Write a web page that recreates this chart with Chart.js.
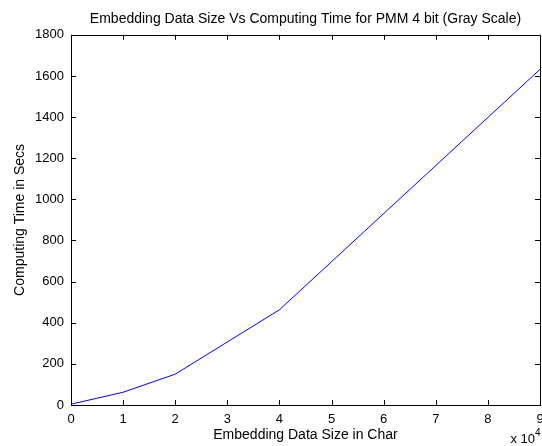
<!DOCTYPE html>
<html>
<head>
<meta charset="utf-8">
<script src="https://cdn.jsdelivr.net/npm/chart.js@4/dist/chart.umd.min.js"></script>
<style>
  html, body { margin: 0; padding: 0; background: #fff; }
</style>
</head>
<body>
<canvas id="plot" width="542" height="446"></canvas>
<script>
// embedding data size (chars) vs computing time (secs)
const dataSize = [0, 10000, 20000, 40000, 90000];
const computeTime = [4, 62, 150, 463, 1632];
const xTicks = [0, 1, 2, 3, 4, 5, 6, 7, 8, 9];
const yTicks = [0, 200, 400, 600, 800, 1000, 1200, 1400, 1600, 1800];

const family = "'Liberation Sans', Arial, sans-serif";
const tickFont = { family: family, size: 13 };
const labelFont = { family: family, size: 14 };

// matlab style box with inward ticks
const boxPlugin = {
  id: "box",
  afterDraw(chart) {
    const ctx = chart.ctx;
    const a = chart.chartArea;
    const xs = chart.scales.x, ys = chart.scales.y;
    ctx.save();
    ctx.strokeStyle = "#000";
    ctx.lineWidth = 1;
    ctx.strokeRect(Math.round(a.left) + 0.5, Math.round(a.top) + 0.5,
      Math.round(a.right - a.left), Math.round(a.bottom - a.top));
    ctx.beginPath();
    xTicks.forEach(t => {
      const px = Math.round(xs.getPixelForValue(t * 10000)) + 0.5;
      ctx.moveTo(px, a.bottom); ctx.lineTo(px, a.bottom - 5);
      ctx.moveTo(px, a.top); ctx.lineTo(px, a.top + 5);
    });
    yTicks.forEach(t => {
      const py = Math.round(ys.getPixelForValue(t)) + 0.5;
      ctx.moveTo(a.left, py); ctx.lineTo(a.left + 5, py);
      ctx.moveTo(a.right, py); ctx.lineTo(a.right - 5, py);
    });
    ctx.stroke();
    // exponent label
    ctx.fillStyle = "#000";
    ctx.font = "13px " + family;
    ctx.textBaseline = "alphabetic";
    ctx.textAlign = "right";
    ctx.fillText("x 10", a.right - 5, a.bottom + 38);
    ctx.font = "10px " + family;
    ctx.textAlign = "left";
    ctx.fillText("4", a.right - 5, a.bottom + 31);
    ctx.restore();
  }
};

new Chart(document.getElementById("plot"), {
  type: "line",
  data: {
    datasets: [{
      data: dataSize.map((x, i) => ({ x: x, y: computeTime[i] })),
      borderColor: "#0000ff",
      borderWidth: 1,
      pointRadius: 0,
      tension: 0,
      fill: false,
    }],
  },
  options: {
    responsive: false,
    animation: false,
    devicePixelRatio: 1,
    layout: { padding: { left: 0, right: 2, top: 0, bottom: 0 } },
    plugins: {
      legend: { display: false },
      tooltip: { enabled: false },
      title: {
        display: true,
        text: "Embedding Data Size Vs Computing Time for PMM 4 bit (Gray Scale)",
        color: "#000",
        font: { family: family, size: 14, weight: "normal" },
        fullSize: false,
        padding: { top: 11, bottom: 7 },
      },
    },
    scales: {
      x: {
        type: "linear",
        min: 0,
        max: 90000,
        grid: { display: false },
        border: { display: false },
        ticks: {
          stepSize: 10000,
          autoSkip: false,
          color: "#000",
          font: tickFont,
          padding: -1,
          maxRotation: 0,
          callback: v => String(v / 10000),
        },
        title: {
          display: true,
          text: "Embedding Data Size in Char",
          color: "#000",
          font: labelFont,
          padding: { top: 0, bottom: 2 },
        },
        afterFit(s) { s.height = 41; s.paddingRight = 2; },
      },
      y: {
        min: 0,
        max: 1800,
        grid: { display: false },
        border: { display: false },
        ticks: {
          stepSize: 200,
          autoSkip: false,
          color: "#000",
          font: tickFont,
          padding: -1,
          callback: v => String(v),
        },
        title: {
          display: true,
          text: "Computing Time in Secs",
          color: "#000",
          font: labelFont,
          padding: { top: 12, bottom: 0 },
        },
        afterFit(s) { s.width = 71; },
      },
    },
  },
  plugins: [boxPlugin],
});
</script>
</body>
</html>
